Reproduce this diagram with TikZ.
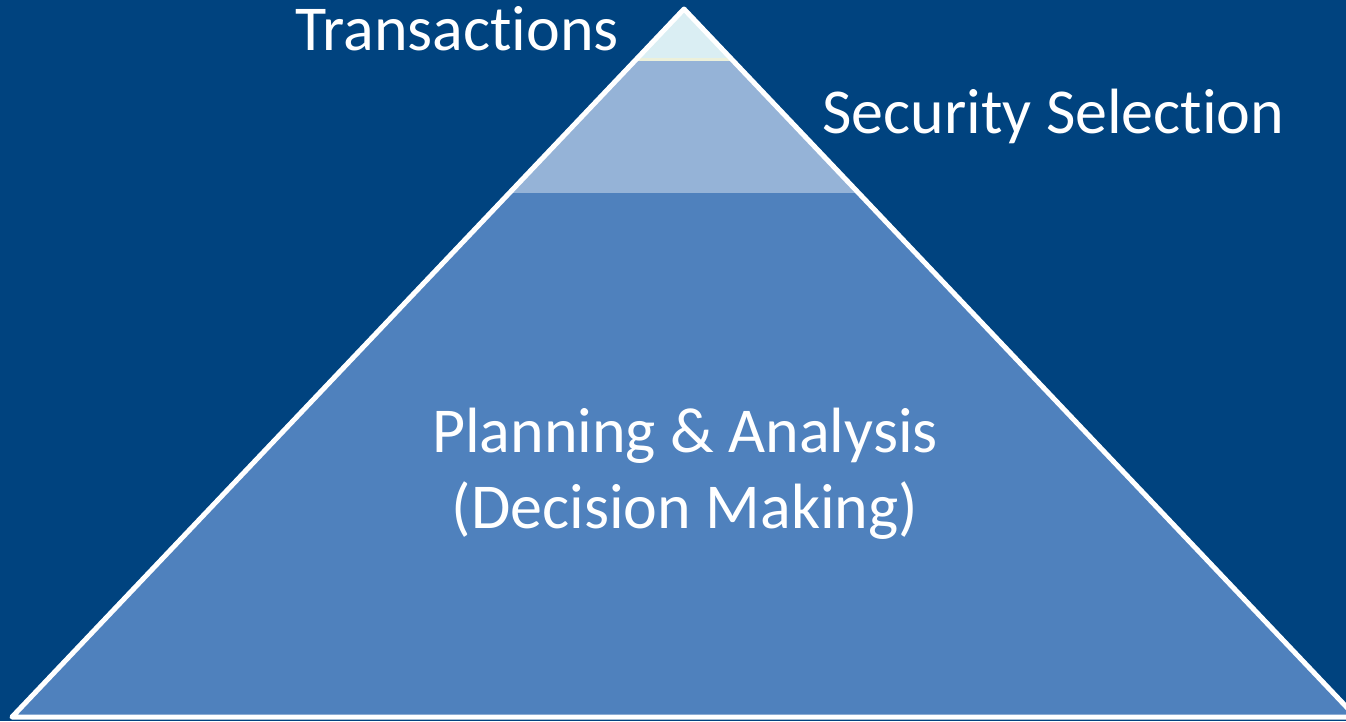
\documentclass[tikz,border=0pt]{standalone}
\usepackage{fontspec}
\setmainfont{Carlito}[Ligatures=NoCommon]
\definecolor{bg}{RGB}{0,67,127}
\definecolor{main}{RGB}{79,129,189}
\definecolor{mid}{RGB}{149,179,215}
\definecolor{top}{RGB}{218,238,243}
\definecolor{cream}{RGB}{236,240,218}
\tikzset{lbl/.style={text=white,font=\fontsize{64}{76}\selectfont,inner sep=0pt}}
\begin{document}
\begin{tikzpicture}[x=1pt,y=-1pt]
\fill[bg] (0,0) rectangle (1346,721);
\useasboundingbox (0,0) rectangle (1346,721);
\clip (0,0) rectangle (1346,721);
\coordinate (A) at (684,9);
\coordinate (L) at (12,717);
\coordinate (R) at (1356,717);
\fill[main] (A) -- (L) -- (R) -- cycle;
\begin{scope}
\clip (A) -- (L) -- (R) -- cycle;
\fill[mid] (0,0) rectangle (1346,193);
\fill[top] (0,0) rectangle (1346,61);
\draw[cream,line width=3pt] (600,59) -- (770,59);
\end{scope}
\draw[white,line width=5pt,line join=round] (A) -- (L) -- (R) -- cycle;
\node[lbl,anchor=base west] (t) at (295,50) {Transactions};
\node[lbl,anchor=base west] (s) at (822,133) {Security Selection};
\node[lbl,align=center,anchor=center] (p) at (685,474) {Planning \& Analysis\\(Decision Making)};
\end{tikzpicture}
\end{document}
